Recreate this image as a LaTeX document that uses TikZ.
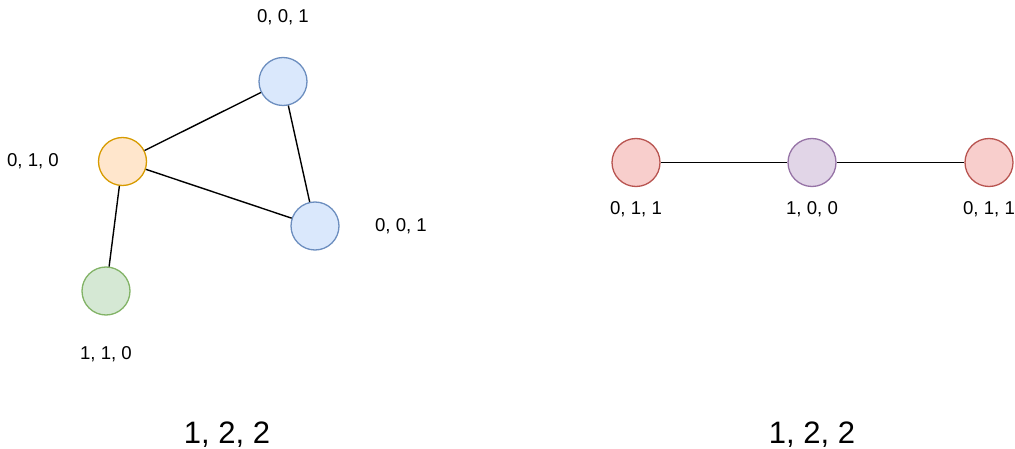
\documentclass[tikz,border=0pt]{standalone}
\usepackage{fontspec}
\setmainfont{Liberation Sans}
\definecolor{bluefill}{HTML}{DAE8FC}\definecolor{bluedraw}{HTML}{6C8EBF}
\definecolor{orfill}{HTML}{FFE6CC}\definecolor{ordraw}{HTML}{D79B00}
\definecolor{grfill}{HTML}{D5E8D4}\definecolor{grdraw}{HTML}{82B366}
\definecolor{rdfill}{HTML}{F8CECC}\definecolor{rddraw}{HTML}{B85450}
\definecolor{pufill}{HTML}{E1D5E7}\definecolor{pudraw}{HTML}{9673A6}
\begin{document}
\begin{tikzpicture}[x=1pt,y=-1pt,
  vert/.style={circle,minimum size=48pt,inner sep=0pt,line width=1.3pt},
  bluev/.style={vert,fill=bluefill,draw=bluedraw},
  orv/.style={vert,fill=orfill,draw=ordraw},
  grv/.style={vert,fill=grfill,draw=grdraw},
  rdv/.style={vert,fill=rdfill,draw=rddraw},
  puv/.style={vert,fill=pufill,draw=pudraw},
  lbl/.style={font=\fontsize{18.6}{22}\selectfont,inner sep=0pt},
  big/.style={font=\fontsize{31}{36}\selectfont,inner sep=0pt},
  edge/.style={line width=1.4pt}]
\useasboundingbox (0,0) rectangle (1015,449);
\node[bluev] (a) at (283,81.5) {};
\node[orv] (b) at (122.5,161.5) {};
\node[bluev] (c) at (315,226) {};
\node[grv] (d) at (106,291) {};
\node[rdv] (e) at (636,162.5) {};
\node[puv] (f) at (812,162.5) {};
\node[rdv] (g) at (989,162.5) {};
\draw[edge] (a) -- (b);
\draw[edge] (a) -- (c);
\draw[edge] (b) -- (c);
\draw[edge] (b) -- (d);
\draw[edge] (e) -- (f);
\draw[edge] (f) -- (g);
\node[lbl] (la) at (283,17) {0, 0, 1};
\node[lbl] (lb) at (33,161) {0, 1, 0};
\node[lbl] (lc) at (401,226) {0, 0, 1};
\node[lbl] (ld) at (106,354) {1, 1, 0};
\node[lbl] (le) at (636,209.5) {0, 1, 1};
\node[lbl] (lf) at (812,209.5) {1, 0, 0};
\node[lbl] (lg) at (989,209.5) {0, 1, 1};
\node[big] (t1) at (227,434.5) {1, 2, 2};
\node[big] (t2) at (812,434.5) {1, 2, 2};
\end{tikzpicture}
\end{document}
